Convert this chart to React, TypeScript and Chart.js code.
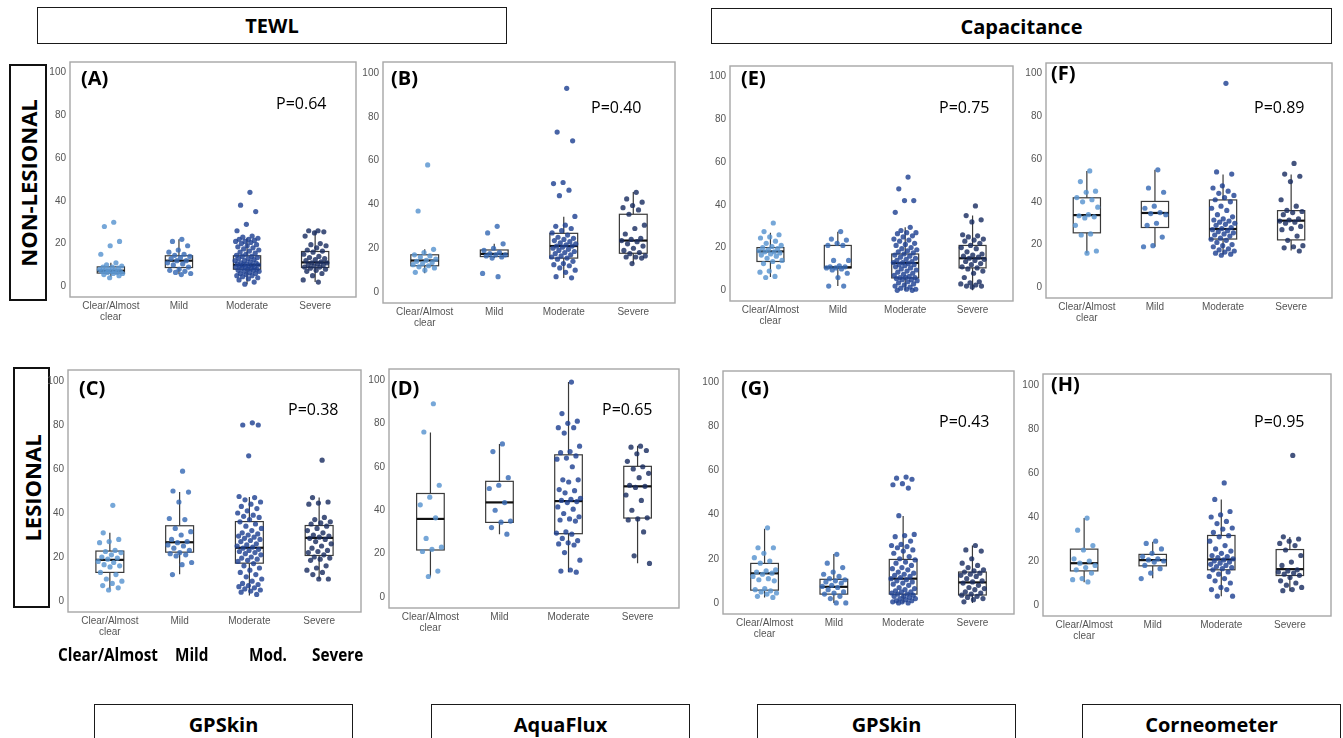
import React, { useEffect, useRef } from 'react';
import { Chart, registerables } from 'chart.js';

Chart.register(...registerables);

// ---------- shared axis data ----------
const CATEGORIES: (string | string[])[] = [['Clear/Almost', 'clear'], 'Mild', 'Moderate', 'Severe'];
const X_TICKS = [0, 1, 2, 3];
const Y_TICKS = [0, 20, 40, 60, 80, 100];

// ---------- (A) TEWL GPSkin, non-lesional ----------
const A_CLEAR = [30, 28, 21, 19, 15, 11, 10, 9.5, 9, 9, 8.5, 8, 8, 7.5, 7.5, 7, 7, 7, 6.5, 6.5, 6, 6, 5.5, 5, 4];
const A_MILD = [22, 21, 19, 17, 16, 15, 14.5, 14, 13.5, 13, 12, 12, 11, 10.5, 10, 9, 8, 7.5, 7, 6.5, 6, 5.5];
const A_MOD = [44, 38, 35, 29, 26, 23.5, 23, 22.5, 22, 22, 21.5, 21, 21, 20.5, 20, 19.5, 19, 18.5, 18, 17.5, 17, 16.5, 16, 15.5, 15, 14.5, 14, 14, 13.5, 13, 13, 12.5, 12, 12, 11.5, 11, 11, 10.5, 10.5, 10, 10, 10, 9.5, 9.5, 9, 9, 9, 8.5, 8.5, 8, 8, 7.5, 7.5, 7, 7, 6.5, 6, 6, 5.5, 5, 5, 4.5, 4, 3.5, 3, 2, 1];
const A_SEV = [26, 26, 25.5, 25, 23.5, 20, 19.5, 19, 18, 17, 16.5, 16, 15, 14, 13.5, 13, 12.5, 12, 11.5, 11, 11, 10.5, 10, 10, 9.5, 9, 9, 8.5, 8, 7.5, 7, 6, 5, 3, 2];
const A_BOX = [[4.5, 6.2, 7.3, 9.1, 11], [5.7, 8.8, 12, 14.3, 22], [1, 8, 10, 14.3, 22.5], [2, 8.8, 11.2, 16.3, 26]];

// ---------- (B) TEWL AquaFlux, non-lesional ----------
const B_CLEAR = [58, 37, 19.5, 18, 17, 16.5, 16, 15, 14.5, 14, 13.5, 13, 12.5, 12, 11.5, 11, 10, 9];
const B_MILD = [30, 27, 22, 20, 19, 18, 17.5, 17, 17, 16.5, 16, 15.5, 8.5, 7];
const B_MOD = [93, 73, 69, 50, 49.5, 46.5, 44, 34.5, 30.5, 30, 29, 28, 27, 26, 25, 24.5, 24, 23.5, 23, 22.5, 22, 21.5, 21, 21, 20.5, 20, 19.5, 19, 18.5, 18, 17.5, 17, 16.5, 16, 15.5, 15, 14, 13, 12.5, 12, 11, 10, 9, 7, 6.5];
const B_SEV = [45.5, 42.5, 41, 39.5, 38.5, 37.5, 35.5, 30.5, 29, 26.5, 24.5, 24, 23.5, 23, 22, 21, 20, 19, 18, 17.5, 16.5, 16, 16, 15.5, 13];
const B_BOX = [[8.6, 12, 14.4, 17, 19.5], [15.5, 16.2, 17.4, 19.2, 22], [6.4, 15.5, 21, 26.8, 34.4], [13, 17.7, 23.5, 35.5, 45.7]];

// ---------- (C) TEWL GPSkin, lesional ----------
const C_CLEAR = [43.5, 31, 28, 27, 26.5, 23, 22.5, 22, 21, 20, 19.5, 19, 18, 17.5, 16.5, 16, 15.5, 13, 12, 10, 9, 8, 7, 6, 5];
const C_MILD = [59, 50, 49.5, 45, 37.5, 37, 33, 31.5, 30, 28, 27, 26.5, 25.5, 25, 24, 23, 22, 21.5, 21, 20.5, 17.5, 16.5, 12];
const C_MOD = [81, 80, 80, 66, 47.5, 47, 46, 45, 44, 43, 42, 41, 40, 39, 38.5, 38, 37, 36, 35, 34, 33, 32, 31, 30.5, 30, 29.5, 29, 28.5, 28, 27.5, 27, 26, 25.5, 25, 24.5, 24, 23.5, 23, 22.5, 22, 21.5, 21, 20, 19.5, 19, 18.5, 18, 17, 16, 15, 14, 13, 12, 11, 10, 9, 8, 7.5, 7, 6.5, 6, 5.5, 5, 4.5, 4, 3];
const C_SEV = [64, 47, 45, 44.5, 44, 38, 37, 36, 35.5, 35, 34, 33, 32, 31, 30, 29.5, 29, 28.5, 28, 27, 26, 25, 24, 23, 22.5, 22, 21, 20, 19.5, 19, 18.5, 16, 15, 14, 13, 12, 10, 10];
const C_BOX = [[5.2, 13, 18.7, 22.7, 31], [12.2, 22.2, 26.7, 34.2, 49.5], [2.5, 17.2, 24.2, 36.1, 47.3], [10, 20.7, 28.7, 34.3, 47]];

// ---------- (D) TEWL AquaFlux, lesional ----------
const D_CLEAR = [89, 76, 51.5, 46, 42.5, 36.5, 27, 23, 22, 21, 12, 9.5];
const D_MILD = [70.5, 67, 55, 51.5, 50, 43.5, 40, 35, 34.5, 32, 29];
const D_MOD = [99, 84.5, 81, 80, 78, 78, 75.5, 69.5, 67, 66.5, 65, 64, 63.5, 60, 54, 54, 53, 49.5, 49, 48, 45.5, 45, 44.5, 44, 43.5, 41.5, 40.5, 38.5, 37, 36, 35.5, 35, 30, 29.5, 29, 27, 26, 25, 24.5, 24, 20.5, 17, 12.5, 12, 11.5];
const D_SEV = [69.5, 69, 67.5, 66, 62.5, 60, 59, 57, 55, 51.5, 51, 50.5, 47, 44.5, 40, 36.5, 36, 35.5, 30, 19, 15.5];
const D_BOX = [[9.5, 21.7, 36, 47.7, 75.8], [29, 34.4, 43.6, 53.3, 70.5], [11.4, 29.2, 44.2, 65.5, 99], [15.6, 36.4, 51, 60.2, 69.7]];

// ---------- (E) Capacitance GPSkin, non-lesional ----------
const E_CLEAR = [31.5, 27.5, 26, 25, 24.5, 23, 22, 21, 20.5, 20, 19.5, 19, 18.5, 18, 18, 17.5, 17, 16.5, 16, 15, 14, 13.5, 12.5, 11, 9, 8.5, 6.5, 6];
const E_MILD = [27.5, 24, 23.5, 22, 21, 21, 14, 14, 11.5, 11, 11, 10.5, 10.5, 10, 9.5, 8, 6, 2, 2];
const E_MOD = [53, 47.5, 42, 42, 36.5, 29.5, 28, 27, 27, 26.5, 25.5, 25, 24, 23.5, 23, 22, 21.5, 21, 20, 19.5, 19, 18.5, 18, 17.5, 17, 16.5, 16, 15.5, 15, 14.5, 14, 13.5, 13, 13, 12.5, 12, 12, 11.5, 11, 10.5, 10, 9.5, 9, 8.5, 8, 7.5, 7, 6.5, 6, 6, 6, 5.5, 5, 5, 4.5, 4, 3.5, 3, 2.5, 2, 1.5, 1, 0.5, 0.5, 0, 0];
const E_SEV = [39.5, 35, 33, 32, 26, 25.5, 25, 24, 23.5, 23, 22, 21, 20, 19.5, 18, 17, 16.5, 16, 15.5, 15, 14.5, 14, 13.5, 12.5, 12, 11, 10.5, 10, 9, 8, 6, 4, 3.5, 3, 2.5, 2, 2, 1.5];
const E_BOX = [[6.2, 13.5, 18.2, 20, 27], [2, 10.5, 10.8, 21, 27.4], [0, 5.8, 12.8, 17, 29.5], [0, 10.5, 15, 21, 35]];

// ---------- (F) Capacitance Corneometer, non-lesional ----------
const F_CLEAR = [54.5, 49.5, 45, 44.5, 42, 41, 40, 37.5, 34, 33.5, 33, 32.5, 29, 25, 24.5, 17, 16];
const F_MILD = [55, 46.5, 44.5, 38, 37, 35, 34.5, 34, 30, 29, 23.5, 19.5, 19];
const F_MOD = [95.5, 54, 53, 47.5, 46.5, 45, 44, 43, 42, 41, 40, 38, 37, 36, 34, 33, 32, 31.5, 31, 30.5, 30, 29.5, 29, 28, 27.5, 27, 26.5, 26, 25.5, 25, 24.5, 24, 23, 22.5, 22, 21, 20, 19.5, 19, 18, 17.5, 17, 16.5, 16, 15.5, 15];
const F_SEV = [58, 53, 52, 49.5, 41, 38, 36, 35.5, 35, 34, 32, 31.5, 31, 30.5, 30, 28.5, 27.5, 27, 24, 22, 19.5, 19, 18.5, 17];
const F_BOX = [[16, 25.5, 33.8, 41.9, 54.4], [19, 28, 34.8, 40.2, 55], [15.2, 22.6, 27.3, 40.9, 52.8], [17.2, 22.2, 31.2, 35.9, 52.8]];

// ---------- (G) Capacitance GPSkin, lesional ----------
const G_CLEAR = [34, 25, 25, 22.5, 20.5, 19, 18, 15, 14.5, 14, 13.5, 13, 12, 11, 10.5, 10, 6.5, 6, 5.5, 5, 4.5, 4, 3, 2.5];
const G_MILD = [22, 18, 16, 14, 13, 12, 11, 10.5, 10, 9.5, 9, 8, 7.5, 7, 6, 5, 4.5, 4, 3, 2, 0, 0];
const G_MOD = [57, 56.5, 56, 54, 53.5, 52, 39.5, 31, 30.5, 30, 28, 26.5, 26, 25.5, 25, 24, 23.5, 22.5, 21, 20, 19.5, 18.5, 18, 17, 16, 15.5, 15, 14, 13.5, 13, 12.5, 12, 11.5, 11, 10.5, 10, 9.5, 9, 8.5, 8, 7, 6.5, 6, 5.5, 5, 5, 4.5, 4, 4, 3.5, 3, 3, 2.5, 2, 2, 1.5, 1, 1, 0.5, 0.5, 0, 0];
const G_SEV = [26, 24, 23.5, 20, 18, 17, 16, 15, 14.5, 14, 13.5, 13, 12.5, 12, 11, 10, 9.5, 9, 8, 7, 6.5, 6, 5, 4.5, 4, 3.5, 3, 2.5, 2, 1.5, 0.5];
const G_BOX = [[2.5, 5.8, 13.4, 17.9, 33.6], [0, 4, 7.3, 10.7, 22.2], [0, 4, 11, 19.7, 39.4], [0, 3.6, 9.3, 14, 26]];

// ---------- (H) Capacitance Corneometer, lesional ----------
const H_CLEAR = [39.5, 34, 27, 25, 21, 20, 19, 18, 17, 16, 14.5, 12, 11.5, 10.5];
const H_MILD = [29, 28, 25.5, 23.5, 22, 21, 20.5, 20, 19.5, 18, 16.5, 14.5, 12];
const H_MOD = [55.5, 48, 42.5, 41, 40, 38, 37, 35, 34.5, 33, 31.5, 31, 29, 27, 25.5, 24.5, 23.5, 22.5, 22, 21.5, 21, 20.5, 20, 19.5, 19, 18.5, 18, 17.5, 17, 16.5, 16, 15, 14, 13, 12, 11, 10, 8, 7, 7, 4, 4];
const H_SEV = [68, 31, 30, 29, 28, 27, 25, 22.5, 19.5, 18, 16, 15.5, 15, 14.5, 14, 13.5, 12.5, 11, 10, 9, 8, 7, 6.5];
const H_BOX = [[10.3, 15.5, 19, 25.4, 39.6], [12.2, 17.8, 20.4, 23, 28.7], [4, 16, 20.7, 31.6, 48], [6.3, 13.4, 16.3, 25.2, 30.9]];

const P_VALUES = ['P=0.64', 'P=0.40', 'P=0.38', 'P=0.65', 'P=0.75', 'P=0.89', 'P=0.43', 'P=0.95'];
const PANEL_LETTERS = ['(A)', '(B)', '(C)', '(D)', '(E)', '(F)', '(G)', '(H)'];

// ---------- styles / layout ----------
const POINT_COLORS = ['rgba(88,148,208,0.82)', 'rgba(55,106,180,0.82)', 'rgba(32,66,146,0.82)', 'rgba(27,46,98,0.82)'];
const TICK_FONT = { family: '"Liberation Sans", Arial, sans-serif', size: 10, lineHeight: 1.1 };
const TICK_COLOR = '#555';
const YW = 28;
const XH = 32;
const PAD = 2;

type PanelCfg = {
  groups: number[][];
  box: number[][];
  rect: { L: number; T: number; R: number; B: number };
  letter: { x: number; y: number };
  p: { x: number; y: number };
};

const PANELS: PanelCfg[] = [
  { groups: [A_CLEAR, A_MILD, A_MOD, A_SEV], box: A_BOX, rect: { L: 70, T: 60, R: 358, B: 297 }, letter: { x: 81, y: 78 }, p: { x: 276, y: 103 } },
  { groups: [B_CLEAR, B_MILD, B_MOD, B_SEV], box: B_BOX, rect: { L: 383, T: 60, R: 677, B: 303 }, letter: { x: 391, y: 78 }, p: { x: 591, y: 107 } },
  { groups: [C_CLEAR, C_MILD, C_MOD, C_SEV], box: C_BOX, rect: { L: 68, T: 368, R: 363, B: 612 }, letter: { x: 79, y: 388 }, p: { x: 288, y: 409 } },
  { groups: [D_CLEAR, D_MILD, D_MOD, D_SEV], box: D_BOX, rect: { L: 389, T: 367, R: 681, B: 608 }, letter: { x: 391, y: 388 }, p: { x: 602, y: 409 } },
  { groups: [E_CLEAR, E_MILD, E_MOD, E_SEV], box: E_BOX, rect: { L: 730, T: 64, R: 1015, B: 301 }, letter: { x: 741, y: 78 }, p: { x: 939, y: 107 } },
  { groups: [F_CLEAR, F_MILD, F_MOD, F_SEV], box: F_BOX, rect: { L: 1046, T: 61, R: 1334, B: 298 }, letter: { x: 1051, y: 73 }, p: { x: 1254, y: 107 } },
  { groups: [G_CLEAR, G_MILD, G_MOD, G_SEV], box: G_BOX, rect: { L: 723, T: 369, R: 1016, B: 614 }, letter: { x: 741, y: 388 }, p: { x: 939, y: 421 } },
  { groups: [H_CLEAR, H_MILD, H_MOD, H_SEV], box: H_BOX, rect: { L: 1043, T: 372, R: 1333, B: 616 }, letter: { x: 1051, y: 384 }, p: { x: 1254, y: 421 } },
];

// deterministic horizontal jitter (position only)
const jitter = (i: number) => ((((i + 1) * 0.6180339887) % 1) - 0.5) * 0.36;

function makeBoxPlugin(stats: number[][]) {
  return {
    id: 'boxes',
    beforeDatasetsDraw(chart: any) {
      const { ctx, scales } = chart;
      const x = scales.x;
      const y = scales.y;
      ctx.save();
      stats.forEach((b, i) => {
        const [lo, q1, med, q3, hi] = b;
        const xl = x.getPixelForValue(i - 0.2);
        const xr = x.getPixelForValue(i + 0.2);
        const xc = x.getPixelForValue(i);
        const yq1 = y.getPixelForValue(q1);
        const yq3 = y.getPixelForValue(q3);
        ctx.strokeStyle = '#3a3a3a';
        ctx.lineWidth = 1.2;
        ctx.beginPath();
        ctx.moveTo(xc, y.getPixelForValue(hi));
        ctx.lineTo(xc, yq3);
        ctx.moveTo(xc, yq1);
        ctx.lineTo(xc, y.getPixelForValue(lo));
        ctx.stroke();
        ctx.fillStyle = '#fff';
        ctx.fillRect(xl, yq3, xr - xl, yq1 - yq3);
        ctx.strokeRect(xl, yq3, xr - xl, yq1 - yq3);
        ctx.strokeStyle = '#111';
        ctx.lineWidth = 2.2;
        ctx.beginPath();
        const ym = y.getPixelForValue(med);
        ctx.moveTo(xl, ym);
        ctx.lineTo(xr, ym);
        ctx.stroke();
      });
      ctx.restore();
    },
    afterDraw(chart: any) {
      const { ctx, chartArea } = chart;
      ctx.save();
      ctx.strokeStyle = '#a6a6a6';
      ctx.lineWidth = 1.4;
      ctx.strokeRect(chartArea.left, chartArea.top, chartArea.right - chartArea.left, chartArea.bottom - chartArea.top);
      ctx.restore();
    },
  };
}

function Panel({ cfg }: { cfg: PanelCfg }) {
  const ref = useRef<HTMLCanvasElement>(null);
  const { L, T, R, B } = cfg.rect;
  const w = R - L + YW + PAD;
  const h = B - T + XH + PAD;
  useEffect(() => {
    const chart = new Chart(ref.current as HTMLCanvasElement, {
      type: 'scatter',
      data: {
        datasets: cfg.groups.map((vals, gi) => ({
          data: vals.map((v, i) => ({ x: gi + jitter(i), y: v })),
          backgroundColor: POINT_COLORS[gi],
          borderWidth: 0,
          pointRadius: 2.6,
          pointBorderWidth: 0,
        })),
      },
      options: {
        animation: false,
        responsive: false,
        maintainAspectRatio: false,
        events: [],
        layout: { padding: { left: 0, top: PAD, right: PAD, bottom: 0 } },
        plugins: { legend: { display: false }, tooltip: { enabled: false } },
        scales: {
          x: {
            type: 'linear',
            min: -0.6,
            max: 3.6,
            afterBuildTicks: (s: any) => {
              s.ticks = X_TICKS.map((v) => ({ value: v }));
            },
            afterFit: (s: any) => {
              s.height = XH;
              s.paddingLeft = 0;
              s.paddingRight = 0;
            },
            ticks: {
              callback: (v: any) => CATEGORIES[Math.round(Number(v))],
              color: TICK_COLOR,
              font: TICK_FONT,
              maxRotation: 0,
              autoSkip: false,
              padding: 4,
            },
            grid: { display: false, drawTicks: false },
            border: { display: false },
          },
          y: {
            min: -5,
            max: 105,
            afterBuildTicks: (s: any) => {
              s.ticks = Y_TICKS.map((v) => ({ value: v }));
            },
            afterFit: (s: any) => {
              s.width = YW;
              s.paddingTop = 0;
              s.paddingBottom = 0;
            },
            ticks: { color: TICK_COLOR, font: TICK_FONT, padding: 4 },
            grid: { display: false, drawTicks: false },
            border: { display: false },
          },
        },
      } as any,
      plugins: [makeBoxPlugin(cfg.box)],
    });
    return () => chart.destroy();
  }, []);
  return (
    <canvas
      ref={ref}
      width={w}
      height={h}
      style={{ position: 'absolute', left: L - YW, top: T - PAD, width: w, height: h }}
    />
  );
}

const HEAD_FONT = '"Open Sans", "Noto Sans", sans-serif';

function BoxLabel({ text, left, top, width, height, size, border }: any) {
  return (
    <div
      style={{
        position: 'absolute',
        left,
        top,
        width,
        height,
        boxSizing: 'border-box',
        border: `${border}px solid #1a1a1a`,
        display: 'flex',
        alignItems: 'center',
        justifyContent: 'center',
        fontFamily: HEAD_FONT,
        fontWeight: 700,
        fontSize: size,
        color: '#000',
        background: '#fff',
      }}
    >
      {text}
    </div>
  );
}

function VBoxLabel({ text, left, top, width, height }: any) {
  return (
    <div
      style={{
        position: 'absolute',
        left,
        top,
        width,
        height,
        boxSizing: 'border-box',
        border: '2px solid #111',
        background: '#fff',
      }}
    >
      <div
        style={{
          position: 'absolute',
          left: '50%',
          top: '50%',
          transform: 'translate(-50%, -50%) rotate(-90deg)',
          whiteSpace: 'nowrap',
          fontFamily: HEAD_FONT,
          fontWeight: 700,
          fontSize: 22,
          lineHeight: '22px',
          color: '#000',
        }}
      >
        {text}
      </div>
    </div>
  );
}

const abs = (x: number, y: number, extra: any = {}) => ({
  position: 'absolute' as const,
  left: x,
  top: y,
  transform: 'translateY(-50%)',
  whiteSpace: 'nowrap' as const,
  lineHeight: 1,
  ...extra,
});

const BOTTOM_LABEL = {
  fontFamily: HEAD_FONT,
  fontWeight: 700,
  fontSize: 17,
  transform: 'translateY(-50%) scaleX(0.9)',
  transformOrigin: 'left center',
};

export default function App() {
  useEffect(() => {
    document.body.style.margin = '0';
  }, []);
  return (
    <div style={{ position: 'absolute', left: 0, top: 0, width: 1343, height: 738, overflow: 'hidden', background: '#fff' }}>
      <BoxLabel text="TEWL" left={37} top={7} width={470} height={37} size={20} border={1.5} />
      <BoxLabel text="Capacitance" left={711} top={8} width={621} height={36} size={20} border={1.5} />
      <VBoxLabel text="NON-LESIONAL" left={9} top={64} width={38} height={237} />
      <VBoxLabel text="LESIONAL" left={13} top={367} width={37} height={241} />
      {PANELS.map((cfg, i) => (
        <Panel key={i} cfg={cfg} />
      ))}
      {PANELS.map((cfg, i) => (
        <div key={'l' + i} style={abs(cfg.letter.x, cfg.letter.y, { fontFamily: HEAD_FONT, fontWeight: 700, fontSize: 20 })}>
          {PANEL_LETTERS[i]}
        </div>
      ))}
      {PANELS.map((cfg, i) => (
        <div key={'p' + i} style={abs(cfg.p.x, cfg.p.y, { fontFamily: HEAD_FONT, fontSize: 16 })}>
          {P_VALUES[i]}
        </div>
      ))}
      <div style={abs(58, 654, BOTTOM_LABEL)}>Clear/Almost</div>
      <div style={abs(175, 654, BOTTOM_LABEL)}>Mild</div>
      <div style={abs(249, 654, BOTTOM_LABEL)}>Mod.</div>
      <div style={abs(312, 654, BOTTOM_LABEL)}>Severe</div>
      <BoxLabel text="GPSkin" left={94} top={704} width={259} height={40} size={20} border={1.5} />
      <BoxLabel text="AquaFlux" left={431} top={704} width={259} height={40} size={20} border={1.5} />
      <BoxLabel text="GPSkin" left={757} top={704} width={259} height={40} size={20} border={1.5} />
      <BoxLabel text="Corneometer" left={1082} top={704} width={259} height={40} size={20} border={1.5} />
    </div>
  );
}
